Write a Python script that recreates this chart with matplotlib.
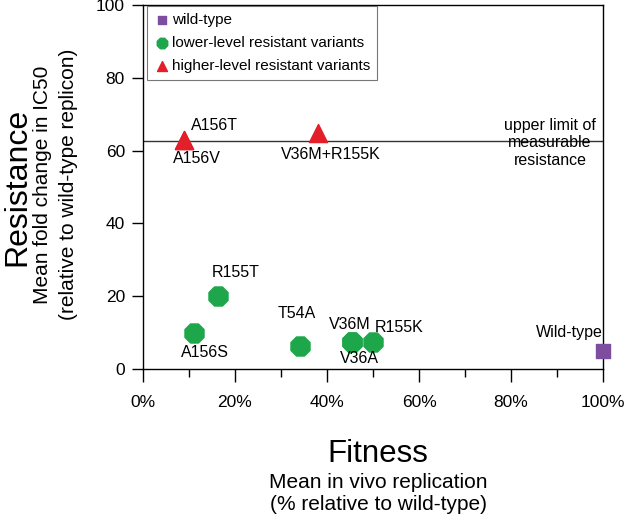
import numpy as np
import matplotlib.pyplot as plt
from matplotlib.ticker import MultipleLocator, PercentFormatter

plt.rcParams['font.family'] = ['Liberation Sans', 'DejaVu Sans']

# data (fitness %, fold change in IC50)
wt_name = ["Wild-type"]
wt_fit = [100]
wt_res = [5]

low_names = ["R155T", "A156S", "T54A", "V36M", "V36A", "R155K"]
low_fit = [16.3, 11.1, 34.2, 45.5, 45.5, 49.9]
low_res = [20, 9.9, 6.3, 7.4, 7.4, 7.4]

high_names = ["A156T", "A156V", "V36M+R155K"]
high_fit = [8.9, 8.9, 38.1]
high_res = [62.9, 62.9, 64.8]

upper_limit = 62.6

# label offsets in pixels (dx, dy, ha)
offs = {
    "Wild-type": (-34, 18, "center"),
    "R155T": (18, 24, "center"),
    "A156S": (11, -20, "center"),
    "T54A": (-4, 33, "center"),
    "V36M": (-3, 18, "center"),
    "V36A": (7, -16, "center"),
    "R155K": (27, 15, "center"),
    "A156T": (7, 15, "left"),
    "A156V": (13, -18, "center"),
    "V36M+R155K": (13, -21, "center"),
}

fig = plt.figure(figsize=(6.26, 5.21), dpi=100)
ax = fig.add_axes([143/626, 1-369/521, 460/626, 364/521])

ax.axhline(upper_limit, color='#333333', lw=1)

ax.scatter(wt_fit, wt_res, marker='s', s=110, color='#7d4ea0', label='wild-type', zorder=3, clip_on=False)
ax.scatter(low_fit, low_res, marker='8', s=220, color='#1ea64b', label='lower-level resistant variants', zorder=3)
ax.scatter(high_fit, high_res, marker='^', s=170, color='#e3202a', label='higher-level resistant variants', zorder=3)

px = 0.72  # points per pixel
for names, xs, ys in [(wt_name, wt_fit, wt_res), (low_names, low_fit, low_res), (high_names, high_fit, high_res)]:
    for n, x, y in zip(names, xs, ys):
        dx, dy, ha = offs[n]
        ax.annotate(n, (x, y), xytext=(dx*px, dy*px), textcoords='offset points',
                    ha=ha, va='center', fontsize=11.5)

ax.text(0.885, 0.69, "upper limit of\nmeasurable\nresistance", transform=ax.transAxes,
        ha='center', va='top', fontsize=11.5, linespacing=1.2)

ax.set_xlim(0, 100)
ax.set_ylim(0, 100)
ax.xaxis.set_major_locator(MultipleLocator(20))
ax.xaxis.set_minor_locator(MultipleLocator(10))
ax.yaxis.set_major_locator(MultipleLocator(20))
ax.xaxis.set_major_formatter(PercentFormatter(decimals=0))
ax.tick_params(axis='x', which='major', length=9, width=1, pad=10)
ax.tick_params(axis='x', which='minor', length=6, width=1)
ax.tick_params(axis='y', length=8, width=1, pad=5)
for lab in ax.get_xticklabels() + ax.get_yticklabels():
    lab.set_fontsize(12.5)
for s in ax.spines.values():
    s.set_linewidth(1)

leg = ax.legend(loc='upper left', bbox_to_anchor=(4/460, 1-1/364), borderaxespad=0,
                fontsize=11, markerscale=0.55,
                frameon=True, fancybox=False, edgecolor='#555555', handletextpad=0.2,
                borderpad=0.45, labelspacing=0.6, handlelength=1.0)
leg.get_frame().set_linewidth(0.8)

fig.text(17/626, 1-187/521, "Resistance", rotation=90, ha='center', va='center', fontsize=23)
fig.text(43/626, 1-185/521, "Mean fold change in IC50", rotation=90, ha='center', va='center', fontsize=15)
fig.text(69/626, 1-184/521, "(relative to wild-type replicon)", rotation=90, ha='center', va='center', fontsize=15)

fig.text(378/626, 1-454/521, "Fitness", ha='center', va='center', fontsize=22.5)
fig.text(378/626, 1-483/521, "Mean in vivo replication", ha='center', va='center', fontsize=15)
fig.text(378/626, 1-505/521, "(% relative to wild-type)", ha='center', va='center', fontsize=15)

fig.savefig("out.png", dpi=100)
